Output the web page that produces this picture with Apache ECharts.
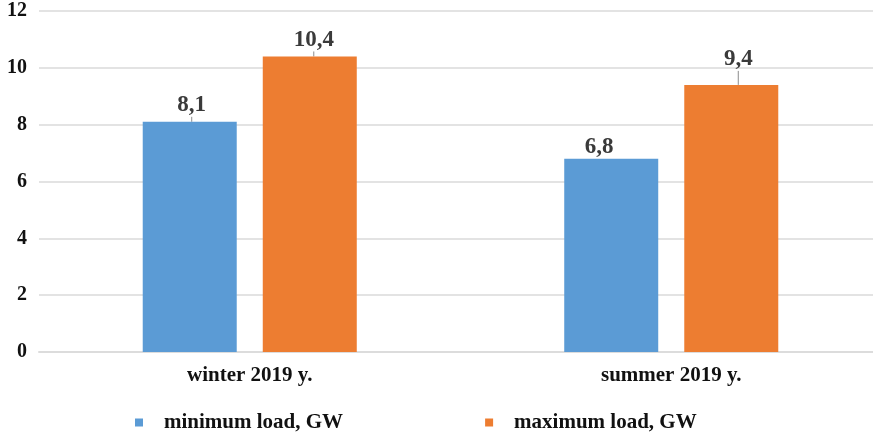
<!DOCTYPE html>
<html>
<head>
<meta charset="utf-8">
<script src="https://cdn.jsdelivr.net/npm/echarts@6/dist/echarts.min.js"></script>
<style>
  html, body { margin: 0; padding: 0; background: #fff; }
  #chart { width: 873px; height: 434px; }
</style>
</head>
<body>
<div id="chart"></div>
<script>
// Seasonal load of the power system, GW
const categories = ['winter 2019 y.', 'summer 2019 y.'];
const minLoad = [8.1, 6.8];
const maxLoad = [10.4, 9.4];
const seriesNames = ['minimum load, GW', 'maximum load, GW'];
const yTicks = { min: 0, max: 12, interval: 2 };

// Callout offsets of the value labels, per series and category [dx, dy]
const calloutShift = [
  [[2, -5], [-12, 0]],
  [[4, -5], [7, -14]]
];

const serif = '"Liberation Serif", "Times New Roman", serif';
const fmt = p => String(p.value).replace('.', ',');

const barLabel = {
  show: true,
  position: 'top',
  distance: 0,
  formatter: fmt,
  fontFamily: serif,
  fontWeight: 'bold',
  fontSize: 23,
  color: '#3a3a3a'
};
const leader = {
  show: true,
  lineStyle: { color: '#8c8c8c', width: 1 }
};
const callout = p => {
  const s = calloutShift[p.seriesIndex][p.dataIndex];
  return { dx: s[0], dy: s[1] };
};

const chart = echarts.init(document.getElementById('chart'), null, { renderer: 'canvas' });
chart.setOption({
  animation: false,
  backgroundColor: '#ffffff',
  grid: { left: 39, top: 11, bottom: 82, width: 843, containLabel: false, outerBoundsMode: 'none' },
  legend: {
    bottom: -4,
    left: 130,
    itemGap: 142,
    icon: 'rect',
    itemWidth: 8,
    itemHeight: 8,
    textStyle: {
      fontFamily: serif, fontWeight: 'bold', fontSize: 21, color: '#111',
      padding: [0, 0, 0, 16]
    },
    data: seriesNames
  },
  xAxis: {
    type: 'category',
    data: categories,
    axisLine: { lineStyle: { color: '#dcdcdc', width: 2 } },
    axisTick: { show: false },
    axisLabel: {
      margin: 13,
      fontFamily: serif, fontWeight: 'bold', fontSize: 21, color: '#111'
    }
  },
  yAxis: {
    type: 'value',
    min: yTicks.min,
    max: yTicks.max,
    interval: yTicks.interval,
    axisLine: { show: false },
    axisTick: { show: false },
    splitLine: { lineStyle: { color: '#e3e3e3', width: 2 } },
    axisLabel: {
      margin: 12,
      fontFamily: serif, fontWeight: 'bold', fontSize: 20, color: '#111'
    }
  },
  series: [
    {
      name: seriesNames[0],
      type: 'bar',
      data: minLoad,
      barWidth: 94,
      barGap: '27.7%',
      itemStyle: { color: '#5B9BD5' },
      label: barLabel,
      labelLayout: callout,
      labelLine: leader
    },
    {
      name: seriesNames[1],
      type: 'bar',
      data: maxLoad,
      barWidth: 94,
      barGap: '27.7%',
      itemStyle: { color: '#ED7D31' },
      label: barLabel,
      labelLayout: callout,
      labelLine: leader
    }
  ]
});
</script>
</body>
</html>
